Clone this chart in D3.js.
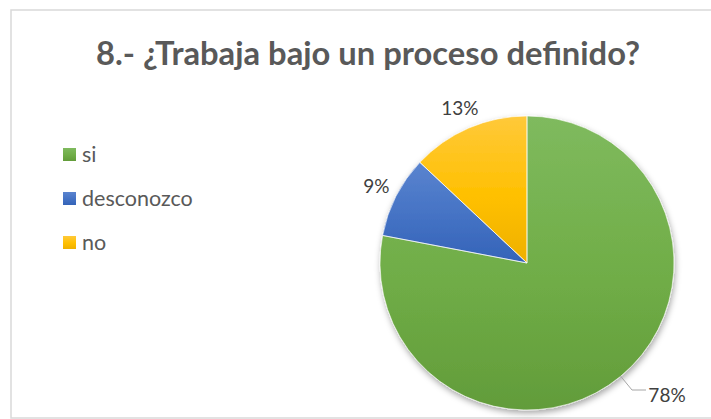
<!DOCTYPE html>
<html><head><meta charset="utf-8">
<script src="https://cdn.jsdelivr.net/npm/d3@7"></script>
<style>body{margin:0;background:#fff;}svg{display:block;}</style>
</head><body>
<script>
const categories = ["si", "desconozco", "no"];
const values = [78, 9, 13];
const labels = ["78%", "9%", "13%"];
const colors = ["#70ad47", "#4472c4", "#ffc000"];
const lightColors = ["#7fba5e", "#5a84cf", "#ffc93a"];
const darkColors = ["#629c3a", "#3463b8", "#eeb000"];
const title = "8.- ¿Trabaja bajo un proceso definido?";

const W = 711, H = 419;
const svg = d3.select("body").append("svg").attr("width", W).attr("height", H);
const defs = svg.append("defs");

const f = defs.append("filter").attr("id","sh").attr("x","-20%").attr("y","-20%").attr("width","140%").attr("height","140%");
f.append("feDropShadow").attr("dx",1).attr("dy",3).attr("stdDeviation",3).attr("flood-color","#000").attr("flood-opacity",0.35);

categories.forEach((c,i)=>{
  const g = defs.append("linearGradient").attr("id","g"+i).attr("x1",0).attr("y1",0).attr("x2",0).attr("y2",1);
  g.append("stop").attr("offset","0%").attr("stop-color",lightColors[i]);
  g.append("stop").attr("offset","55%").attr("stop-color",colors[i]);
  g.append("stop").attr("offset","100%").attr("stop-color",darkColors[i]);
});

// chart frame
svg.append("rect").attr("x",11).attr("y",10).attr("width",W).attr("height",408)
  .attr("fill","#fff").attr("stroke","#d9d9d9").attr("stroke-width",1.5);

svg.append("text").attr("x",368).attr("y",65).attr("text-anchor","middle")
  .attr("font-family","Lato, 'Open Sans', sans-serif").attr("font-weight","bold")
  .attr("font-size",32).attr("fill","#595959")
  .attr("textLength",544).attr("lengthAdjust","spacingAndGlyphs").text(title);

// legend
const leg = svg.append("g");
categories.forEach((c,i)=>{
  const y = 148 + i*44;
  leg.append("rect").attr("x",63).attr("y",y).attr("width",13).attr("height",13).attr("fill","url(#g"+i+")");
  leg.append("text").attr("x",82).attr("y",y+14).attr("font-family","Lato, 'Open Sans', sans-serif")
    .attr("font-size",21.5).attr("fill","#595959").text(c);
});

// pie
const cx = 527, cy = 263, r = 147;
const pie = d3.pie().sort(null).value(d=>d)(values);
const arc = d3.arc().innerRadius(0).outerRadius(r);
const pg = svg.append("g").attr("transform",`translate(${cx},${cy})`);
const sg = pg.append("g").attr("filter","url(#sh)");
sg.selectAll("path").data(pie).join("path")
  .attr("d", arc).attr("fill",(d,i)=>"url(#g"+i+")");
sg.selectAll("path.b").data(pie).join("path").attr("class","b")
  .attr("d", arc).attr("fill","none").attr("stroke","#fff").attr("stroke-width",0.6);

// labels
const labelArc = d3.arc().innerRadius(r+22).outerRadius(r+22);
const lblPos = pie.map((d,i)=>{
  if(i===0) return [667-cx, 395-cy];
  return labelArc.centroid(d);
});
pg.selectAll("text.l").data(pie).join("text").attr("class","l")
  .attr("x",(d,i)=>lblPos[i][0]).attr("y",(d,i)=>lblPos[i][1]+7)
  .attr("text-anchor","middle").attr("font-family","Lato, 'Open Sans', sans-serif")
  .attr("font-size",19).attr("fill","#404040").text((d,i)=>labels[i]);

// leader line for 78%
const mid0 = (pie[0].startAngle+pie[0].endAngle)/2;
const p0 = [Math.sin(mid0)*r, -Math.cos(mid0)*r];
pg.append("polyline").attr("points",
  `${p0[0]},${p0[1]} ${632-cx},${390-cy} ${646-cx},${390-cy}`)
  .attr("fill","none").attr("stroke","#a6a6a6").attr("stroke-width",1);
</script>
</body></html>
